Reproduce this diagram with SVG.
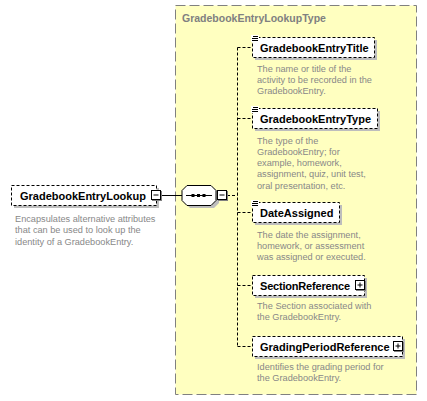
<svg xmlns="http://www.w3.org/2000/svg" width="427" height="401" viewBox="0 0 427 401">
<style>
.lbl{font-family:"Liberation Sans",Arial,sans-serif;font-weight:bold;font-size:11px;fill:#000}
.desc{font-family:"Liberation Sans",Arial,sans-serif;font-size:9.2px;fill:#888}
.ttl{font-family:"Liberation Sans",Arial,sans-serif;font-weight:bold;font-size:10.5px;fill:#808080}
.box{fill:#fff;stroke:#000;stroke-width:1;stroke-dasharray:3,2}
.sh{fill:#bdbdbd}
.conn{stroke:#000;stroke-width:1;fill:none}
.dash{stroke-dasharray:3,2}
.pm{fill:#fff;stroke:#000;stroke-width:1}
.pmg{stroke:#000;stroke-width:1;fill:none}
</style>
<defs>
<g id="plus"><rect x="1" y="1" width="10" height="10" fill="#808080"/><rect class="pm" x="0.5" y="0.5" width="9" height="9"/><path class="pmg" d="M2.5 5H7.5M5 2.5V7.5"/></g>
<g id="minus"><rect x="1" y="1" width="10" height="10" fill="#808080"/><rect class="pm" x="0.5" y="0.5" width="9" height="9"/><path class="pmg" d="M2.5 5H7.5"/></g>
<g id="doc"><rect x="0" y="0" width="8" height="7" fill="#fff"/><path class="pmg" d="M2 1.5H7M1 3.5H7M1 5.5H7"/></g>
</defs>

<g id="GradebookEntryLookupType">
<rect x="175.5" y="5.5" width="241" height="389" fill="#ffffc0" stroke="#808080" stroke-width="1" stroke-dasharray="10,4"/>
<text class="ttl" x="182" y="21.5">GradebookEntryLookupType</text>
</g>

<g id="connectors">
<path class="conn" d="M161 195.5H182"/>
<path class="conn dash" d="M227 195.5H237.5M237.5 47.5V346.5M237.5 47.5H252M237.5 118.5H252M237.5 212.5H252M237.5 285.5H252M237.5 346.5H252"/>
</g>

<g id="GradebookEntryLookup">
<rect class="sh" x="14" y="188" width="145" height="20"/>
<rect class="box" x="11.5" y="185.5" width="145" height="20"/>
<text class="lbl" x="20" y="199.5">GradebookEntryLookup</text>
<use href="#minus" x="151" y="190"/>
<text class="desc" x="15" y="222">Encapsulates alternative attributes</text>
<text class="desc" x="15" y="233.3">that can be used to look up the</text>
<text class="desc" x="15" y="244.6">identity of a GradebookEntry.</text>
</g>

<g id="sequence">
<polygon class="sh" points="190,188 214,188 219,193 219,203 214,208 190,208 185,203 185,193"/>
<polygon fill="#fff" stroke="#000" stroke-width="1" points="187,185.5 211,185.5 216,190.5 216,200.5 211,205.5 187,205.5 182,200.5 182,190.5"/>
<path class="conn" d="M186 195.5H212"/>
<rect x="191.5" y="194" width="3" height="3" fill="#000"/>
<rect x="197" y="194" width="3" height="3" fill="#000"/>
<rect x="202.5" y="194" width="3" height="3" fill="#000"/>
<use href="#minus" x="217" y="190"/>
</g>

<g id="GradebookEntryTitle">
<rect class="sh" x="255" y="40" width="122" height="20"/>
<rect class="box" x="252.5" y="37.5" width="122" height="20"/>
<use href="#doc" x="251" y="35"/>
<text class="lbl" x="260" y="51.5">GradebookEntryTitle</text>
<text class="desc" x="257" y="71.5">The name or title of the</text>
<text class="desc" x="257" y="82.8">activity to be recorded in the</text>
<text class="desc" x="257" y="94.1">GradebookEntry.</text>
</g>

<g id="GradebookEntryType">
<rect class="sh" x="255" y="111" width="125" height="20"/>
<rect class="box" x="252.5" y="108.5" width="125" height="20"/>
<use href="#doc" x="251" y="106"/>
<text class="lbl" x="260" y="122.5">GradebookEntryType</text>
<text class="desc" x="257" y="143.5">The type of the</text>
<text class="desc" x="257" y="154.8">GradebookEntry; for</text>
<text class="desc" x="257" y="166.1">example, homework,</text>
<text class="desc" x="257" y="177.4">assignment, quiz, unit test,</text>
<text class="desc" x="257" y="188.7">oral presentation, etc.</text>
</g>

<g id="DateAssigned">
<rect class="sh" x="255" y="205" width="87" height="20"/>
<rect class="box" x="252.5" y="202.5" width="87" height="20"/>
<use href="#doc" x="251" y="200"/>
<text class="lbl" x="260" y="216.5">DateAssigned</text>
<text class="desc" x="257" y="237.5">The date the assignment,</text>
<text class="desc" x="257" y="248.8">homework, or assessment</text>
<text class="desc" x="257" y="260.1">was assigned or executed.</text>
</g>

<g id="SectionReference">
<rect class="sh" x="255" y="278" width="112" height="20"/>
<rect class="box" x="252.5" y="275.5" width="112" height="20"/>
<text class="lbl" x="260" y="289.5" textLength="90" lengthAdjust="spacing">SectionReference</text>
<use href="#plus" x="355" y="280"/>
<text class="desc" x="257" y="308.5">The Section associated with</text>
<text class="desc" x="257" y="319.8">the GradebookEntry.</text>
</g>

<g id="GradingPeriodReference">
<rect class="sh" x="255" y="339" width="150" height="20"/>
<rect class="box" x="252.5" y="336.5" width="150" height="20"/>
<text class="lbl" x="260" y="350.5">GradingPeriodReference</text>
<use href="#plus" x="393" y="341"/>
<text class="desc" x="257" y="369.5">Identifies the grading period for</text>
<text class="desc" x="257" y="380.8">the GradebookEntry.</text>
</g>
</svg>
